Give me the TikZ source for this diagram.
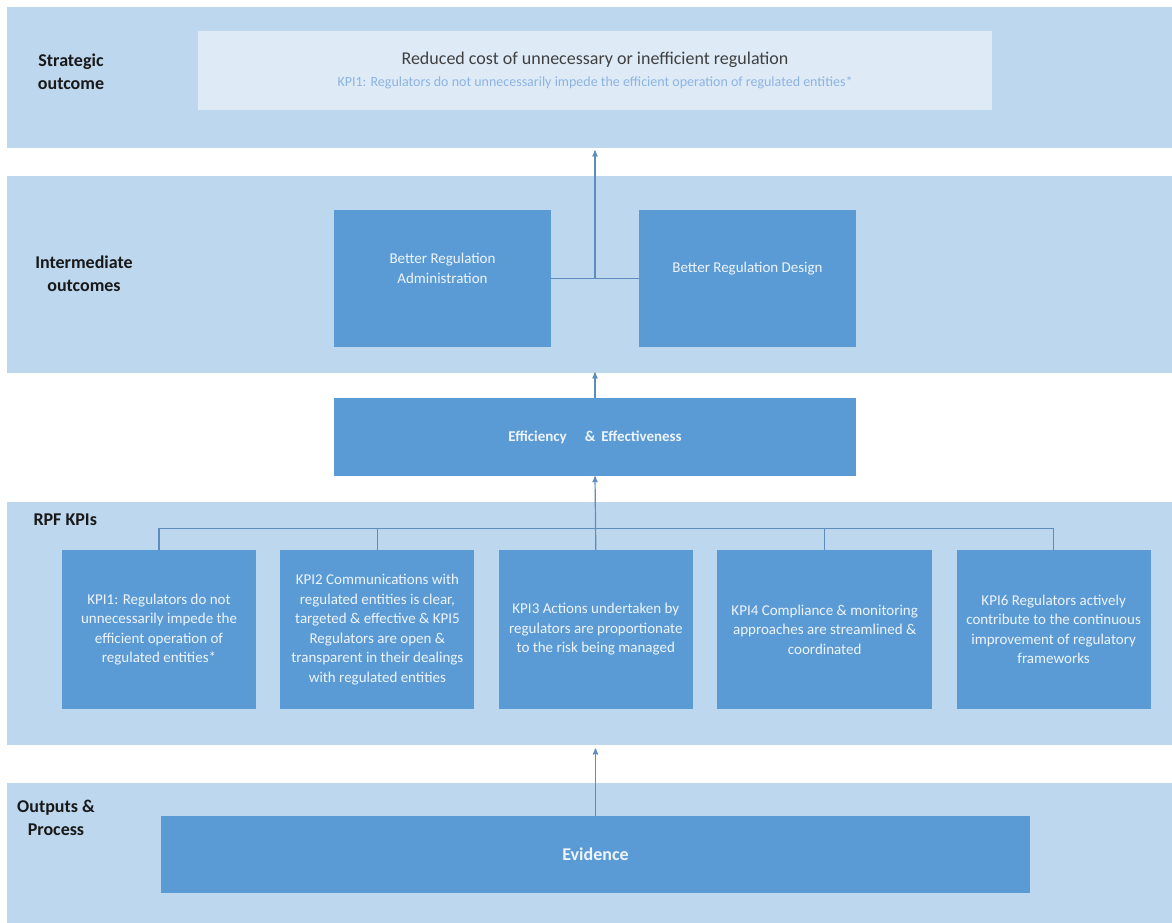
\documentclass[tikz,border=0pt]{standalone}
\usepackage{fontspec}
\setmainfont{Carlito}
\usetikzlibrary{positioning, arrows}
\definecolor{bandblue}{HTML}{BDD7EE}
\definecolor{boxblue}{HTML}{5B9BD5}
\definecolor{paleblue}{HTML}{DEEBF7}
\definecolor{lineblue}{HTML}{5E8CBC}
\definecolor{kpiblue}{HTML}{8DB3E2}
\definecolor{boxtext}{HTML}{EEF4FB}
\tikzset{x=1pt, y=-1pt, % One unit is one pixel of the layout, y going down
band/.style={ % Light strip behind each level
fill=bandblue, anchor=north west, inner sep=0pt},
outbox/.style={ % Darker blue boxes
fill=boxblue, inner sep=0pt},
boxtxt/.style={ % Text inside the dark boxes
text=boxtext, align=center, font=\fontsize{15}{19.5}\selectfont},
tag/.style={ % Level names on the left
align=center, text=black!90, font=\bfseries\fontsize{18}{23}\selectfont},
link/.style={ % Plain connectors
draw=lineblue, line width=1.2pt},
up/.style={ % Connectors with a head
link, ->, >=stealth'}}

\begin{document}
\begin{tikzpicture}
    \useasboundingbox (0,0) rectangle (1172,923);
    
    % levels
    \node[band, minimum width=1165pt, minimum height=141pt] (strat) at (7,7) {};
    \node[band, minimum width=1165pt, minimum height=197pt] (inter) at (7,176) {};
    \node[band, minimum width=1165pt, minimum height=243pt] (kpis) at (7,502) {};
    \node[band, minimum width=1165pt, minimum height=140pt] (outs) at (7,783) {};
    
    \node[tag] (stratlbl) at (71,72) {Strategic\\outcome};
    \node[tag] (interlbl) at (84,273.5) {Intermediate\\outcomes};
    \node[tag, anchor=west] (kpilbl) at (30,520) {RPF KPIs};
    \node[tag] (outlbl) at (56,818) {Outputs \&\\Process};
    
    % strategic outcome
    \node[fill=paleblue, minimum width=794pt, minimum height=79pt] (goal) at (595,70.5) {};
    \node[text=black!75, font=\fontsize{18}{22}\selectfont] (goaltxt) at (595,60)
        {Reduced cost of unnecessary or inefficient regulation};
    \node[text=kpiblue, font=\fontsize{14}{17}\selectfont] (goalkpi) at (595,83)
        {KPI1: Regulators do not unnecessarily impede the efficient operation of regulated entities*};
    
    % intermediate outcomes
    \node[outbox, minimum width=217pt, minimum height=137pt] (admin) at (442.5,278.5) {};
    \node[outbox, minimum width=217pt, minimum height=137pt] (design) at (747.5,278.5) {};
    \node[boxtxt] (admintxt) at (442.5,268.5) {Better Regulation\\Administration};
    \node[boxtxt] (designtxt) at (747.5,269) {Better Regulation Design};
    
    \node[outbox, minimum width=522pt, minimum height=78pt, boxtxt, font=\bfseries\fontsize{15}{19}\selectfont] (eff) at (595,437)
        {Efficiency\hspace{18pt}\&\hspace{6pt}Effectiveness};
    
    % KPI row
    \node[outbox, boxtxt, minimum width=194pt, minimum height=159pt] (kpi1) at (159,629.5)
        {KPI1: Regulators do not\\unnecessarily impede the\\efficient operation of\\regulated entities*};
    \node[outbox, boxtxt, minimum width=194pt, minimum height=159pt, right=24pt of kpi1] (kpi2)
        {KPI2 Communications with\\regulated entities is clear,\\targeted \& effective \& KPI5\\Regulators are open \&\\transparent in their dealings\\with regulated entities};
    \node[outbox, boxtxt, minimum width=194pt, minimum height=159pt, right=24pt of kpi2] (kpi3)
        {KPI3 Actions undertaken by\\regulators are proportionate\\to the risk being managed};
    \node[outbox, boxtxt, minimum width=215pt, minimum height=159pt, right=24pt of kpi3] (kpi4)
        {KPI4 Compliance \& monitoring\\approaches are streamlined \&\\coordinated};
    \node[outbox, boxtxt, minimum width=194pt, minimum height=159pt, right=24pt of kpi4] (kpi6)
        {KPI6 Regulators actively\\contribute to the continuous\\improvement of regulatory\\frameworks};
    
    % outputs
    \node[outbox, minimum width=869pt, minimum height=77pt, boxtxt, font=\bfseries\fontsize{18}{22}\selectfont] (evid) at (595.5,854.5) {Evidence};
    
    % connectors
    \path (kpi3.north) ++(0,-21) coordinate (kpibar);
    \draw[link] (kpi1.north) |- (kpibar) -| (kpi6.north);
    \foreach \k in {kpi2,kpi4}
        \draw[link] (\k.north) -- (\k.north |- kpibar);
    \draw[up] (kpi3.north) -- (eff.south);
    \draw[up] (eff.north) -- ([yshift=1pt]eff.north |- inter.south);
    \draw[link] (admin.east) -- (design.west);
    \draw[up] (admin.east -| eff.north) -- ([yshift=-2pt]eff.north |- strat.south);
    \draw[up] (evid.north) -- ([yshift=-3pt]evid.north |- kpis.south);
    
\end{tikzpicture}
\end{document}
